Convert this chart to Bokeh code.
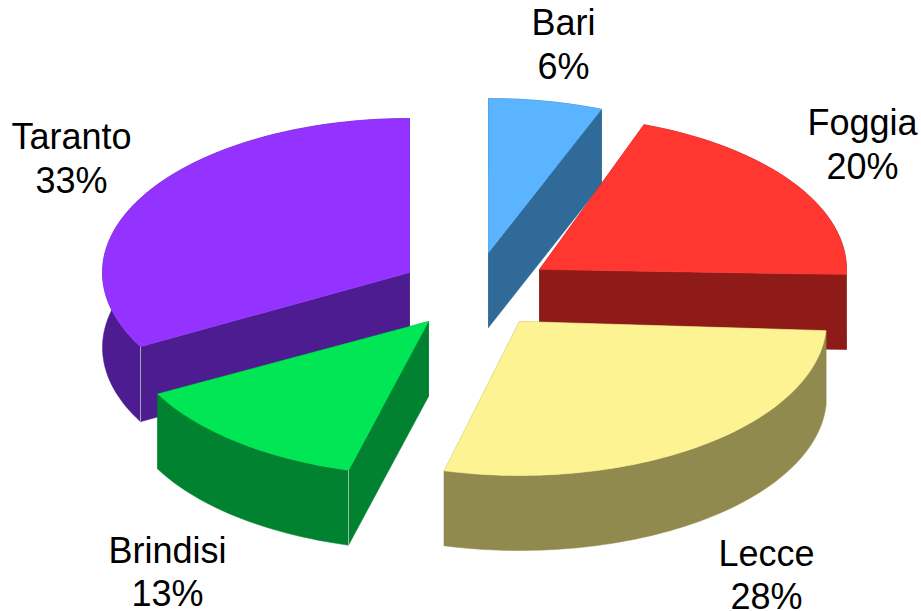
import math
from bokeh.core.properties import value
from bokeh.embed import file_html
from bokeh.models import ColumnDataSource
from bokeh.plotting import figure
from bokeh.resources import INLINE

# Province shares, in percent, clockwise from twelve o'clock
provinces = ["Bari", "Foggia", "Lecce", "Brindisi", "Taranto"]
shares = [6, 20, 28, 13, 33]
top_colors = ["#5AB4FF", "#FF3730", "#FDF392", "#00E654", "#9433FF"]
side_colors = ["#2F6A99", "#8E1B17", "#918A4E", "#008230", "#4D1C90"]

# Where each exploded slice has its apex on the page, and its small turn in degrees
apex_x = [488, 539, 519, 428, 409]
apex_y = [252, 269, 321, 321, 272]
slice_turn = [0, -1.7, -0.2, 0.7, 0]

# Label block centres: name line and percentage line
label_x = [563, 862, 766, 167, 71]
name_y = [22, 122, 553, 550, 136]
pct_y = [66, 166, 596, 593, 180]

RX, RY, DEPTH = 307, 154, 75
DRAW_ORDER = [0, 4, 1, 3, 2]  # back to front


def rim_point(cx, cy, deg):
    a = math.radians(deg)
    return cx + RX * math.sin(a), cy - RY * math.cos(a)


p = figure(width=921, height=611, x_range=(0, 921), y_range=(611, 0),
           output_backend="svg", toolbar_location=None, min_border=0,
           outline_line_color=None, background_fill_color="white")
p.axis.visible = False
p.grid.visible = False

edges = [0.0]
for s in shares:
    edges.append(edges[-1] + s * 3.6)

for i in DRAW_ORDER:
    cx, cy = apex_x[i], apex_y[i]
    start, end = edges[i] + slice_turn[i], edges[i + 1] + slice_turn[i]
    steps = max(2, int((end - start) / 1.5))
    angles = [start + (end - start) * k / steps for k in range(steps + 1)]
    rim = [rim_point(cx, cy, a) for a in angles]

    # Extruded walls: the two cut faces, then the curved rim
    xs_side, ys_side = [], []
    for edge_pt in (rim[0], rim[-1]):
        xs_side.append([cx, edge_pt[0], edge_pt[0], cx])
        ys_side.append([cy, edge_pt[1], edge_pt[1] + DEPTH, cy + DEPTH])
    xs_side.append([q[0] for q in rim] + [q[0] for q in reversed(rim)])
    ys_side.append([q[1] for q in rim] + [q[1] + DEPTH for q in reversed(rim)])
    p.patches(xs_side, ys_side, fill_color=side_colors[i],
              line_color=side_colors[i], line_width=0.5)

    # Pale seam where a front-facing cut meets the rim
    if 180 <= start <= 270:
        p.segment(rim[0][0], rim[0][1], rim[0][0], rim[0][1] + DEPTH,
                  line_color="#B9CDBF", line_width=0.8)

    # Top face of the slice
    p.patch([cx] + [q[0] for q in rim], [cy] + [q[1] for q in rim],
            fill_color=top_colors[i], line_color=top_colors[i], line_width=0.5)

labels = ColumnDataSource(dict(
    x=label_x + label_x,
    y=name_y + pct_y,
    text=provinces + [f"{s}%" for s in shares],
))
p.text("x", "y", text="text", source=labels, text_font=value("Liberation Sans"),
       text_font_size="36px", text_color="#000000",
       text_align="center", text_baseline="middle")

open("out.html", "w").write(file_html(p, INLINE))
